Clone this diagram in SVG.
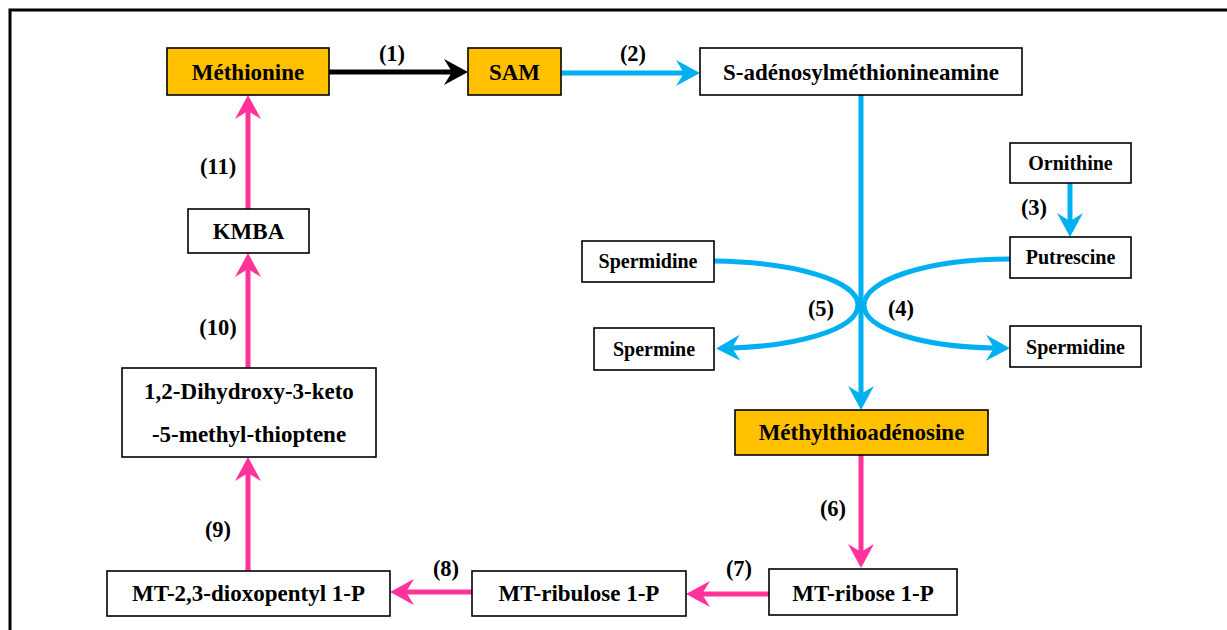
<svg xmlns="http://www.w3.org/2000/svg" width="1227" height="630" viewBox="0 0 1227 630">
  <style>
    .box { fill: #ffffff; stroke: #000000; stroke-width: 1.6; }
    .key { fill: #FFC000; stroke: #000000; stroke-width: 1.6; }
    .t { font-family: "Liberation Serif", "Times New Roman", serif; font-weight: bold; font-size: 23px; fill: #000000; text-anchor: middle; }
    .ts { font-family: "Liberation Serif", "Times New Roman", serif; font-weight: bold; font-size: 20px; fill: #000000; text-anchor: middle; }
    .step { font-family: "Liberation Serif", "Times New Roman", serif; font-weight: bold; font-size: 22.5px; fill: #000000; text-anchor: middle; }
    .black { fill: none; stroke: #000000; stroke-width: 5; }
    .blue { fill: none; stroke: #00B0F0; stroke-width: 5; }
    .pink { fill: none; stroke: #FF3399; stroke-width: 5; }
  </style>
  <defs>
    <marker id="ah-black" markerUnits="userSpaceOnUse" viewBox="0 0 24 26" markerWidth="24" markerHeight="26" refX="8" refY="13" orient="auto">
      <path d="M0,0 L24,13 L0,26 L8,13 Z" fill="#000000"/>
    </marker>
    <marker id="ah-blue" markerUnits="userSpaceOnUse" viewBox="0 0 24 26" markerWidth="24" markerHeight="26" refX="8" refY="13" orient="auto">
      <path d="M0,0 L24,13 L0,26 L8,13 Z" fill="#00B0F0"/>
    </marker>
    <marker id="ah-pink" markerUnits="userSpaceOnUse" viewBox="0 0 24 26" markerWidth="24" markerHeight="26" refX="8" refY="13" orient="auto">
      <path d="M0,0 L24,13 L0,26 L8,13 Z" fill="#FF3399"/>
    </marker>
  </defs>

  <rect x="0" y="0" width="1227" height="630" fill="#ffffff"/>

  <!-- frame -->
  <path d="M10,630 V10 H1227" fill="none" stroke="#000000" stroke-width="3"/>

  <!-- connectors -->
  <g id="connectors">
    <path class="black" d="M329,72 H452" marker-end="url(#ah-black)"/>
    <path class="blue" d="M561,73 H684" marker-end="url(#ah-blue)"/>
    <path class="blue" d="M861,95 V394" marker-end="url(#ah-blue)"/>
    <path class="blue" d="M1070,183 V221" marker-end="url(#ah-blue)"/>
    <path class="blue" d="M714,261 C795,262 858,281 858,305 C858,330 795,346 732,348" marker-end="url(#ah-blue)"/>
    <path class="blue" d="M1010,259 C925,259 864,281 864,305 C864,330 925,347 994,348" marker-end="url(#ah-blue)"/>
    <path class="pink" d="M861,455 V552" marker-end="url(#ah-pink)"/>
    <path class="pink" d="M769,594 H702" marker-end="url(#ah-pink)"/>
    <path class="pink" d="M472,592 H406" marker-end="url(#ah-pink)"/>
    <path class="pink" d="M248,571 V473" marker-end="url(#ah-pink)"/>
    <path class="pink" d="M248,368 V269" marker-end="url(#ah-pink)"/>
    <path class="pink" d="M248,209 V111" marker-end="url(#ah-pink)"/>
  </g>

  <!-- step numbers -->
  <g id="steps">
    <text class="step" x="392" y="61">(1)</text>
    <text class="step" x="633" y="61">(2)</text>
    <text class="step" x="1034" y="215">(3)</text>
    <text class="step" x="901" y="316">(4)</text>
    <text class="step" x="821" y="316">(5)</text>
    <text class="step" x="833" y="516">(6)</text>
    <text class="step" x="739" y="576">(7)</text>
    <text class="step" x="446" y="576">(8)</text>
    <text class="step" x="218" y="537">(9)</text>
    <text class="step" x="218" y="335">(10)</text>
    <text class="step" x="218" y="174">(11)</text>
  </g>

  <!-- nodes -->
  <g id="methionine">
    <rect class="key" x="167" y="48" width="162" height="47"/>
    <text class="t" x="248" y="80">Méthionine</text>
  </g>
  <g id="sam">
    <rect class="key" x="468" y="48" width="93" height="47"/>
    <text class="t" x="514.5" y="80">SAM</text>
  </g>
  <g id="s-adenosylmethionineamine">
    <rect class="box" x="700" y="48" width="322" height="47"/>
    <text class="t" x="861" y="80">S-adénosylméthionineamine</text>
  </g>
  <g id="ornithine">
    <rect class="box" x="1010" y="143" width="121" height="40"/>
    <text class="ts" x="1070.5" y="170">Ornithine</text>
  </g>
  <g id="putrescine">
    <rect class="box" x="1010" y="237" width="121" height="41"/>
    <text class="ts" x="1070.5" y="264">Putrescine</text>
  </g>
  <g id="spermidine-in">
    <rect class="box" x="582" y="241" width="132" height="41"/>
    <text class="ts" x="648" y="268">Spermidine</text>
  </g>
  <g id="spermine">
    <rect class="box" x="594" y="328" width="120" height="42"/>
    <text class="ts" x="654" y="356">Spermine</text>
  </g>
  <g id="spermidine-out">
    <rect class="box" x="1010" y="326" width="131" height="41"/>
    <text class="ts" x="1075.5" y="354">Spermidine</text>
  </g>
  <g id="methylthioadenosine">
    <rect class="key" x="735" y="410" width="253" height="45"/>
    <text class="t" x="861.5" y="440">Méthylthioadénosine</text>
  </g>
  <g id="mt-ribose">
    <rect class="box" x="769" y="569" width="188" height="46"/>
    <text class="t" x="863" y="601">MT-ribose 1-P</text>
  </g>
  <g id="mt-ribulose">
    <rect class="box" x="472" y="571" width="214" height="45"/>
    <text class="t" x="579" y="601">MT-ribulose 1-P</text>
  </g>
  <g id="mt-dioxopentyl">
    <rect class="box" x="107" y="571" width="283" height="45"/>
    <text class="t" x="248.5" y="601">MT-2,3-dioxopentyl 1-P</text>
  </g>
  <g id="dihydroxy-keto">
    <rect class="box" x="122" y="368" width="254" height="89"/>
    <text class="t" x="249" y="399">1,2-Dihydroxy-3-keto</text>
    <text class="t" x="249" y="442">-5-methyl-thioptene</text>
  </g>
  <g id="kmba">
    <rect class="box" x="188" y="209" width="121" height="44"/>
    <text class="t" x="248.5" y="239">KMBA</text>
  </g>
</svg>
